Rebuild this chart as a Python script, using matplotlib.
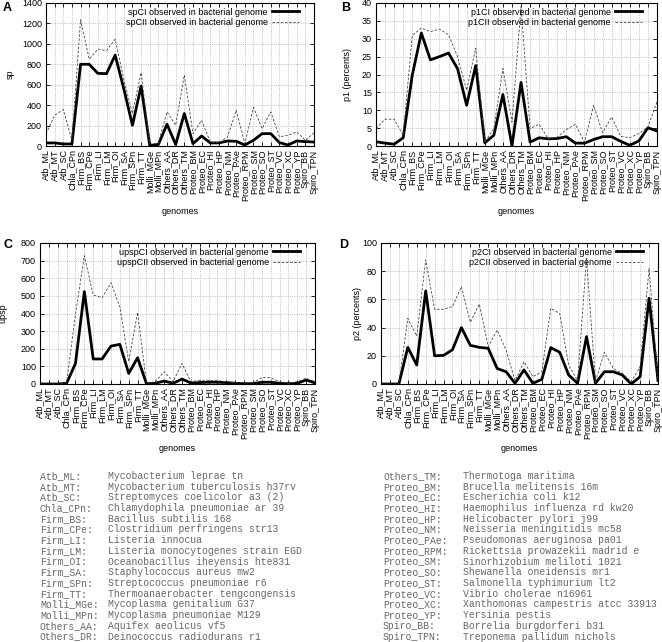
import matplotlib
matplotlib.use("Agg")
import matplotlib.pyplot as plt

plt.rcParams['font.family'] = ['Liberation Sans', 'DejaVu Sans']

# genome codes (x axis) and full names (table below the plots)
genomes = ["Atb_ML", "Atb_MT", "Atb_SC", "Chla_CPn", "Firm_BS", "Firm_CPe",
           "Firm_LI", "Firm_LM", "Firm_OI", "Firm_SA", "Firm_SPn", "Firm_TT",
           "Molli_MGe", "Molli_MPn", "Others_AA", "Others_DR", "Others_TM",
           "Proteo_BM", "Proteo_EC", "Proteo_HI", "Proteo_HP", "Proteo_NM",
           "Proteo_PAe", "Proteo_RPM", "Proteo_SM", "Proteo_SO", "Proteo_ST",
           "Proteo_VC", "Proteo_XC", "Proteo_YP", "Spiro_BB", "Spiro_TPN"]

species = ["Mycobacterium leprae tn", "Mycobacterium tuberculosis h37rv",
           "Streptomyces coelicolor a3 (2)", "Chlamydophila pneumoniae ar 39",
           "Bacillus subtilis 168", "Clostridium perfringens str13",
           "Listeria innocua", "Listeria monocytogenes strain EGD",
           "Oceanobacillus iheyensis hte831", "Staphylococcus aureus mw2",
           "Streptococcus pneumoniae r6", "Thermoanaerobacter tengcongensis",
           "Mycoplasma genitalium G37", "Mycoplasma pneumoniae M129",
           "Aquifex aeolicus vf5", "Deinococcus radiodurans r1",
           "Thermotoga maritima", "Brucella melitensis 16m",
           "Escherichia coli k12", "Haemophilus influenza rd kw20",
           "Helicobacter pylori j99", "Neisseria meningitidis mc58",
           "Pseudomonas aeruginosa pa01", "Rickettsia prowazekii madrid e",
           "Sinorhizobium meliloti 1021", "Shewanella oneidensis mr1",
           "Salmonella typhimurium lt2", "Vibrio cholerae n16961",
           "Xanthomonas campestris atcc 33913", "Yersinia pestis",
           "Borrelia burgdorferi b31", "Treponema pallidum nichols"]

# A: sp
sp_ci = [30, 30, 20, 20, 800, 800, 711, 708, 890, 560, 203, 587, 5, 15, 213, 15,
         318, 23, 98, 30, 30, 49, 46, 10, 56, 121, 121, 33, 10, 49, 43, 39]
sp_cii = [120, 300, 357, 55, 1236, 850, 948, 934, 1046, 650, 318, 718, 20, 30, 334, 203,
          695, 121, 252, 39, 30, 89, 351, 23, 377, 170, 334, 89, 105, 138, 56, 128]

# B: p1 (percents)
p1_ci = [1.2, 0.8, 0.5, 2.3, 19.8, 31.6, 24.1, 25, 26, 21.6, 11.4, 22.5, 0.9, 3, 14.4, 0,
         17.8, 1.1, 2.3, 2, 2.1, 2.6, 0.8, 0.8, 1.8, 2.6, 2.6, 1.3, 0.2, 1.4, 5.1, 4.2]
p1_cii = [4.9, 7.5, 7.5, 3, 30.9, 33, 32, 32.7, 31.1, 25, 15.6, 27.4, 1.1, 4.9, 21.7, 6.7,
          39, 4.9, 6.1, 2, 2.5, 4.6, 6.1, 1.1, 11.4, 3.7, 8.1, 2.7, 2.3, 3.5, 5.3, 12.4]

# C: upsp
upsp_ci = [0, 0, 0, 4, 117, 524, 142, 142, 215, 225, 60, 149, 2, 4, 17, 4,
           28, 6, 8, 10, 10, 8, 4, 2, 2, 10, 10, 4, 2, 4, 23, 6]
upsp_cii = [0, 0, 0, 8, 395, 728, 505, 490, 575, 439, 127, 406, 4, 13, 70, 13,
            117, 13, 21, 21, 19, 13, 8, 6, 8, 36, 36, 11, 4, 13, 32, 13]

# D: p2 (percents)
p2_ci = [0, 0, 0, 26, 13.5, 66, 20, 20.3, 24.3, 40, 27.4, 26, 25.3, 11, 8.7, 0.5,
         10, 0.5, 3.3, 25.8, 22.5, 6.4, 0.5, 33.6, 0.5, 8.7, 8.7, 6.4, 0, 5.2, 60.8, 2.4]
p2_cii = [0, 0, 0, 46.6, 34, 88, 53, 53, 55, 69, 43.7, 56.7, 26.5, 38.3, 24, 2.4,
          15.8, 5.2, 8.7, 53.7, 50, 13.5, 2.4, 89, 1.7, 22.5, 11, 7.6, 1.7, 12.3, 82, 2.4]

FS = 6.5
W, H = 662, 642

fig = plt.figure(figsize=(W / 100, H / 100), dpi=100)


def panel(box, ci, cii, name, ylabel, ymax, ystep, letter, ylab_x, letter_xy):
    left, top, right, bottom = box
    ax = fig.add_axes([left / W, 1 - bottom / H, (right - left) / W, (bottom - top) / H])
    x = list(range(len(genomes)))
    ax.plot(x, ci, color="black", lw=2.0, label=name + "CI observed in bacterial genome")
    ax.plot(x, cii, color="#444444", lw=0.6, dashes=(3, 2),
            label=name + "CII observed in bacterial genome")
    ax.set_xlim(0, len(genomes) - 1)
    ax.set_ylim(0, ymax)
    ax.set_xticks(x)
    ax.set_xticklabels(genomes, rotation=90, fontsize=FS)
    ax.set_yticks(range(0, ymax + 1, ystep))
    ax.tick_params(axis="y", labelsize=FS, pad=3)
    ax.tick_params(direction="in", length=3, width=0.6, top=True, right=True)
    ax.tick_params(axis="x", pad=2.5)
    ax.grid(True, color="#aaaaaa", ls=":", lw=0.6)
    for s in ax.spines.values():
        s.set_linewidth(0.8)
    ax.set_xlabel("genomes", fontsize=FS)
    ax.xaxis.label.set_va("center")
    ax.xaxis.set_label_coords(0.5, -0.46)
    ax.set_ylabel(ylabel, fontsize=FS)
    ax.yaxis.label.set_va("center")
    ax.yaxis.set_label_coords((ylab_x - left) / (right - left), 0.5)
    ax.legend(loc="upper right", bbox_to_anchor=(1 - 10 / (right - left), 1.0),
              frameon=False, fontsize=FS, markerfirst=False, handlelength=3.0,
              handletextpad=0.5, labelspacing=0.15, borderaxespad=0.2, borderpad=0.3)
    fig.text(letter_xy[0] / W, 1 - letter_xy[1] / H, letter, fontsize=9,
             fontweight="bold", ha="left", va="top")
    return ax


panel((46, 3, 314, 146), sp_ci, sp_cii, "sp", "sp", 1400, 200, "A", 10, (3, 2))
panel((376, 3, 657, 146), p1_ci, p1_cii, "p1", "p1 (percents)", 40, 5, "B", 347, (341, 2))
panel((40, 243, 315, 384), upsp_ci, upsp_cii, "upsp", "upsp", 800, 100, "C", 3, (3, 239))
panel((381, 243, 658, 384), p2_ci, p2_cii, "p2", "p2 (percents)", 100, 20, "D", 358, (339, 239))

# table of genome names
half = len(genomes) // 2
for col, (xc, xn) in enumerate([(40, 108), (383, 463)]):
    for i in range(half):
        k = col * half + i
        y = 1 - (476 + 10.7 * i) / H
        fig.text(xc / W, y, genomes[k] + ":", family="Liberation Mono", fontsize=7,
                 color="#666666", va="center", ha="left")
        fig.text(xn / W, y, species[k], family="Liberation Mono", fontsize=7,
                 color="#666666", va="center", ha="left")

fig.savefig("out.png", dpi=100)
